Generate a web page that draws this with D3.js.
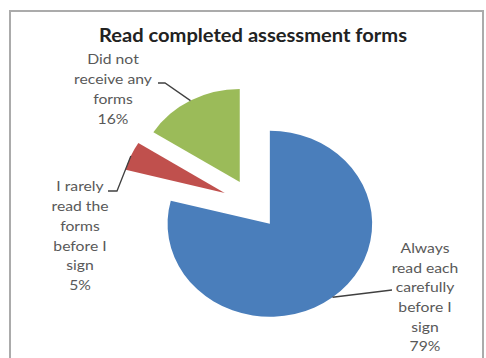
<!DOCTYPE html>
<html>
<head>
<meta charset="utf-8">
<script src="https://cdn.jsdelivr.net/npm/d3@7"></script>
<style>
  html, body { margin: 0; padding: 0; background: #fff; }
  svg { display: block; }
</style>
</head>
<body>
<svg id="chart" width="486" height="358"></svg>
<script>
// Survey answers: how respondents treat completed assessment forms
const categories = [
  "Always read each carefully before I sign",
  "I rarely read the forms before I sign",
  "Did not receive any forms"
];
const shares = [79, 5, 16];
const labelLines = [
  ["Always", "read each", "carefully", "before I", "sign"],
  ["I rarely", "read the", "forms", "before I", "sign"],
  ["Did not", "receive any", "forms"]
];
const title = "Read completed assessment forms";

// Look and layout
const colors = ["#4a7ebb", "#c0504d", "#9bbb59"];
const explode = [25, 28, 25];          // slice pull-out distance
const center = [253, 204];
const radius = 93;
const stretchX = 1.1;                  // the whole chart is drawn slightly wider than tall
const textColor = "#595959";
const fontFamily = "Lato, 'Open Sans', sans-serif";
const lineH = 19.7;
// label block: anchor x, first baseline y, elbow of the leader line
const labelLayout = [
  { x: 425, y: 253, elbowFrom: [392, 290] },
  { x: 80,  y: 191.5, elbowFrom: [108, 191], elbow: [117, 191] },
  { x: 113, y: 64.5, elbowFrom: [158, 83], elbow: [165, 83] }
];

const svg = d3.select("#chart");

// chart frame
svg.append("rect")
  .attr("x", 10).attr("y", 11)
  .attr("width", 473).attr("height", 360)
  .attr("fill", "#fff")
  .attr("stroke", "#ababab")
  .attr("stroke-width", 2);

// horizontally stretched text block anchored at (x, 0)
function stretchedText(x) {
  return svg.append("g")
    .attr("transform", `translate(${x},0) scale(${stretchX},1)`)
    .append("text")
    .attr("text-anchor", "middle")
    .attr("font-family", fontFamily);
}

stretchedText(253)
  .attr("y", 42)
  .attr("font-weight", "bold")
  .attr("font-size", 18.3)
  .attr("fill", "#222")
  .text(title);

const pie = d3.pie().sort(null).value(d => d)(shares);
const arc = d3.arc().innerRadius(0).outerRadius(radius);

const g = svg.append("g")
  .attr("transform", `translate(${center[0]},${center[1]}) scale(${stretchX},1)`);

function offset(d, i) {
  const mid = (d.startAngle + d.endAngle) / 2;
  return [explode[i] * Math.sin(mid), -explode[i] * Math.cos(mid)];
}

g.selectAll("path")
  .data(pie)
  .join("path")
  .attr("d", arc)
  .attr("fill", (d, i) => colors[i])
  .attr("transform", (d, i) => {
    const o = offset(d, i);
    return `translate(${o[0]},${o[1]})`;
  });

// page-space point on a slice's outer edge at its mid angle
function edgePoint(d, i) {
  const mid = (d.startAngle + d.endAngle) / 2;
  const o = offset(d, i);
  const lx = o[0] + radius * Math.sin(mid);
  const ly = o[1] - radius * Math.cos(mid);
  return [center[0] + lx * stretchX, center[1] + ly];
}

// leader lines
pie.forEach((d, i) => {
  const L = labelLayout[i];
  const pts = [L.elbowFrom];
  if (L.elbow) pts.push(L.elbow);
  pts.push(edgePoint(d, i));
  svg.append("path")
    .attr("d", d3.line()(pts))
    .attr("fill", "none")
    .attr("stroke", "#404040")
    .attr("stroke-width", 1.3);
});

// data labels
pie.forEach((d, i) => {
  const L = labelLayout[i];
  const lines = labelLines[i].concat([d3.format(".0f")(shares[i]) + "%"]);
  const t = stretchedText(L.x)
    .attr("font-size", 14.3)
    .attr("fill", textColor);
  lines.forEach((s, k) => {
    t.append("tspan").attr("x", 0).attr("y", L.y + k * lineH).text(s);
  });
});
</script>
</body>
</html>
